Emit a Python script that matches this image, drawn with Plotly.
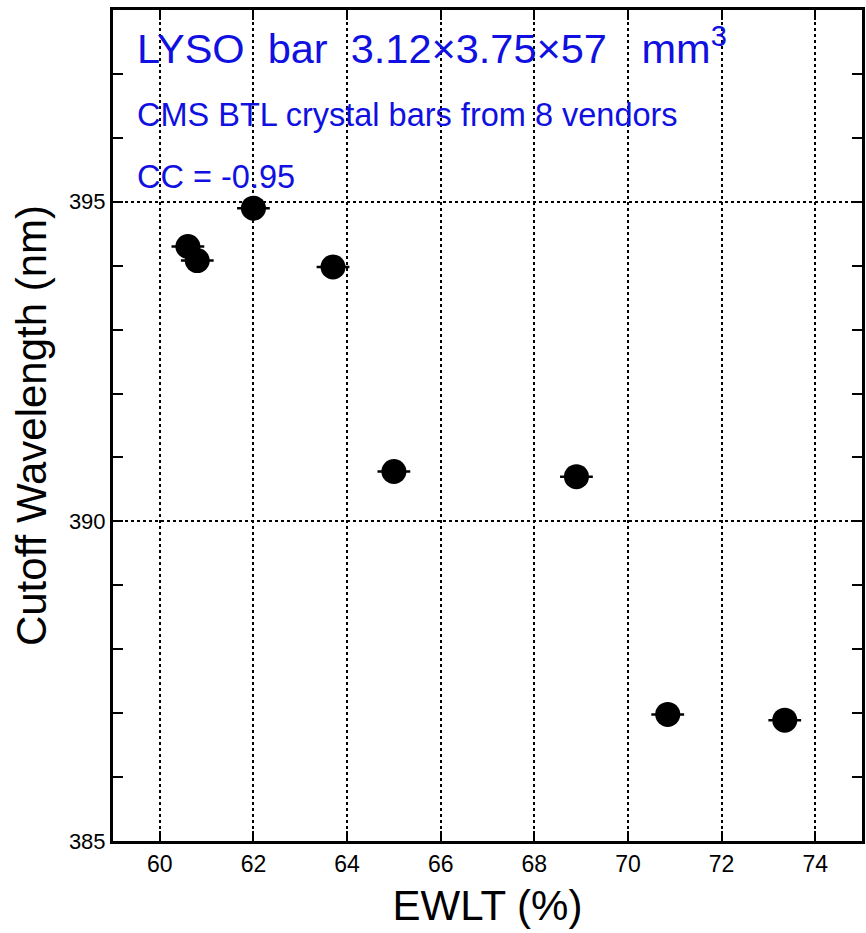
import plotly.graph_objects as go

# EWLT (%) and cutoff wavelength (nm) for BTL crystal bars from 8 vendors
ewlt = [60.6, 60.8, 62.0, 63.7, 65.0, 68.9, 70.85, 73.35]
cutoff = [394.3, 394.08, 394.9, 393.98, 390.78, 390.7, 386.98, 386.89]
ewlt_err = [0.35, 0.35, 0.35, 0.35, 0.35, 0.35, 0.35, 0.35]

x_ticks = [60, 62, 64, 66, 68, 70, 72, 74]
y_ticks = [385, 390, 395]

FONT = "Liberation Sans, Arial, sans-serif"

fig = go.Figure()
fig.add_trace(go.Scatter(
    x=ewlt, y=cutoff, mode="markers",
    marker=dict(color="black", size=25, line=dict(width=0)),
    error_x=dict(type="data", array=ewlt_err, color="black", thickness=2.5, width=0),
    showlegend=False,
))

fig.update_layout(
    width=866, height=933,
    margin=dict(l=113, r=1, t=10, b=92),
    paper_bgcolor="white", plot_bgcolor="white",
    font=dict(family=FONT, color="black"),
)

fig.update_xaxes(
    range=[59, 75], tickvals=x_ticks, ticktext=[str(v) for v in x_ticks],
    ticks="inside", ticklen=10, tickwidth=2, tickcolor="black",
    tickfont=dict(family=FONT, size=23),
    showline=True, linewidth=3, linecolor="black", mirror="allticks",
    showgrid=True, gridcolor="black", gridwidth=1.5, griddash="dot",
    zeroline=False,
    title=dict(text="EWLT (%)", font=dict(family=FONT, size=42), standoff=16),
)
fig.update_yaxes(
    range=[385, 398], tickvals=y_ticks, ticktext=[str(v) for v in y_ticks],
    ticks="inside", ticklen=10, tickwidth=2, tickcolor="black",
    tickfont=dict(family=FONT, size=22),
    minor=dict(dtick=1, ticks="inside", ticklen=10, tickwidth=2, tickcolor="black", showgrid=False),
    showline=True, linewidth=3, linecolor="black", mirror="allticks",
    showgrid=True, gridcolor="black", gridwidth=1.5, griddash="dot",
    zeroline=False,
    title=dict(text="Cutoff Wavelength (nm)", font=dict(family=FONT, size=42), standoff=10),
)

blue = "#1010e0"
fig.add_annotation(xref="paper", yref="paper", x=0.030, y=0.957, xanchor="left", yanchor="middle",
                   text="LYSO  bar  3.12\u00d73.75\u00d757   mm<sup>3</sup>", showarrow=False,
                   font=dict(family=FONT, size=41.5, color=blue))
fig.add_annotation(xref="paper", yref="paper", x=0.030, y=0.874, xanchor="left", yanchor="middle",
                   text="CMS BTL crystal bars from 8 vendors", showarrow=False,
                   font=dict(family=FONT, size=32.5, color=blue))
fig.add_annotation(xref="paper", yref="paper", x=0.030, y=0.799, xanchor="left", yanchor="middle",
                   text="CC = -0.95", showarrow=False,
                   font=dict(family=FONT, size=32.5, color=blue))

fig.write_html("out.html")
